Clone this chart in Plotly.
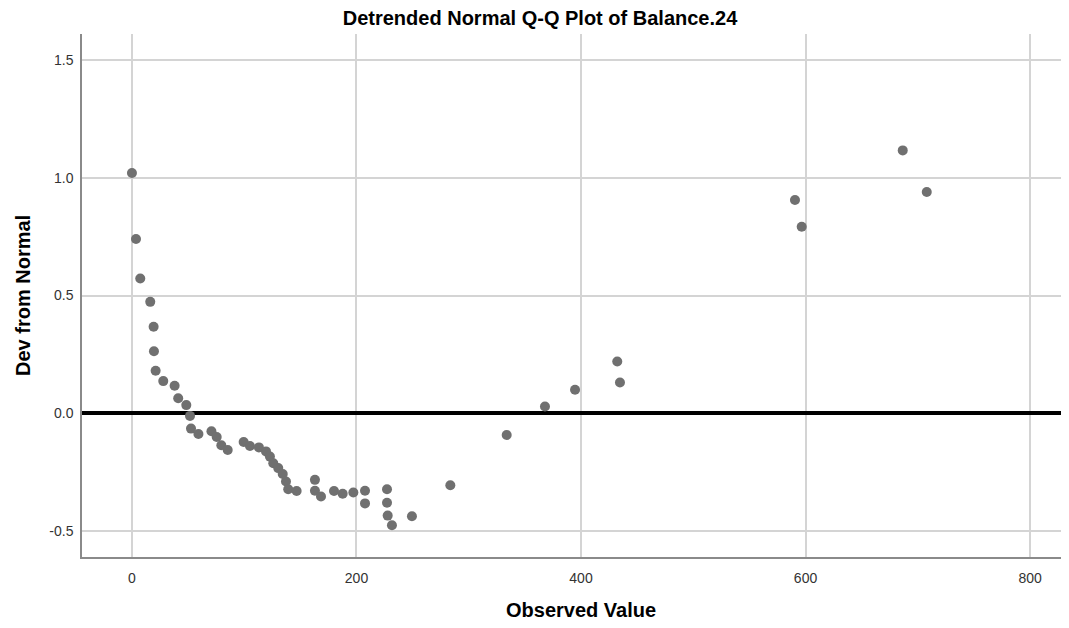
import plotly.graph_objects as go

observed = [0.0, 3.6, 7.4, 16.3, 19.3, 19.6, 21.1, 27.9, 38.0, 41.2, 48.4, 51.7, 52.6,
            59.2, 70.8, 75.5, 79.6, 85.3, 99.5, 105.1, 113.1, 119.4, 122.9, 125.9,
            130.3, 134.3, 137.2, 139.2, 146.7, 163.0, 163.0, 168.4, 180.0, 187.7,
            197.2, 207.6, 207.6, 227.2, 227.2, 227.8, 231.6, 249.4, 283.6, 333.8,
            367.9, 394.7, 432.3, 434.7, 590.6, 596.6, 686.6, 708.0]
deviation = [1.021, 0.740, 0.572, 0.473, 0.367, 0.263, 0.180, 0.136, 0.116, 0.063, 0.034,
             -0.012, -0.066, -0.089, -0.077, -0.102, -0.137, -0.157, -0.123, -0.140,
             -0.146, -0.163, -0.185, -0.213, -0.234, -0.259, -0.291, -0.324, -0.331,
             -0.284, -0.330, -0.355, -0.331, -0.343, -0.338, -0.330, -0.384, -0.324,
             -0.381, -0.436, -0.477, -0.439, -0.307, -0.093, 0.028, 0.099, 0.219,
             0.130, 0.906, 0.792, 1.117, 0.940]

x_ticks = [0, 200, 400, 600, 800]
y_ticks = [-0.5, 0.0, 0.5, 1.0, 1.5]

title_text = "Detrended Normal Q-Q Plot of Balance.24"
x_title = "Observed Value"
y_title = "Dev from Normal"

FONT = "Liberation Sans, Arial, sans-serif"
# page has an 8px body margin; size the figure so it fills the window exactly
W, H = 1061, 620
L, R, T, B = 74, 0, 26, 71
PW, PH = W - L - R, H - T - B

fig = go.Figure()
fig.add_trace(go.Scatter(
    x=observed, y=deviation, mode="markers",
    marker=dict(size=10, color="#707070", line=dict(width=0)),
    showlegend=False, hoverinfo="x+y",
))

fig.update_layout(
    width=W, height=H,
    margin=dict(l=L, r=R, t=T, b=B),
    paper_bgcolor="white", plot_bgcolor="white",
    font=dict(family=FONT, color="#333333", size=14),
    title=dict(text=title_text, x=532 / W, xref="container", xanchor="center",
               y=1 - 9.5 / H, yref="container", yanchor="middle",
               font=dict(family=FONT, size=20, color="black", weight="bold")),
    xaxis=dict(range=[-44.5, 834.7], tickvals=x_ticks, ticktext=[str(v) for v in x_ticks],
               showgrid=True, gridcolor="#d4d4d4", gridwidth=1.5, zeroline=False,
               showline=True, linecolor="#8a8a8a", linewidth=1.5,
               ticks="outside", ticklen=7, tickcolor="rgba(0,0,0,0)",
               tickfont=dict(size=14, color="#333333")),
    yaxis=dict(range=[-0.612, 1.612], tickvals=y_ticks,
               ticktext=[f"{v:.1f}" for v in y_ticks],
               showgrid=True, gridcolor="#d4d4d4", gridwidth=1.5,
               zeroline=True, zerolinecolor="black", zerolinewidth=4,
               showline=True, linecolor="#8a8a8a", linewidth=1.5,
               ticks="outside", ticklen=4, tickcolor="rgba(0,0,0,0)",
               tickfont=dict(size=14, color="#333333")),
    annotations=[
        dict(text=x_title, xref="paper", yref="paper",
             x=(581 - 82) / PW, y=(557 - 610) / PH,
             xanchor="center", yanchor="middle", showarrow=False,
             font=dict(family=FONT, size=20, color="black", weight="bold")),
        dict(text=y_title, xref="paper", yref="paper",
             x=(22.5 - 82) / PW, y=0.5, textangle=-90,
             xanchor="center", yanchor="middle", showarrow=False,
             font=dict(family=FONT, size=20, color="black", weight="bold")),
    ],
)

fig.write_html("out.html")
